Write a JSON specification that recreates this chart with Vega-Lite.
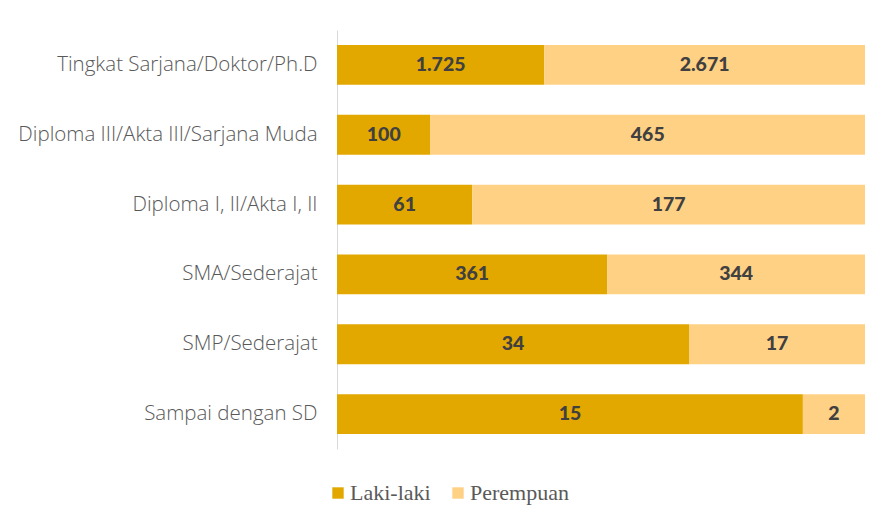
{
  "$schema": "https://vega.github.io/schema/vega-lite/v6.json",
  "width": 528,
  "height": 419,
  "autosize": "none",
  "padding": {"left": 337, "top": 30, "right": 27, "bottom": 78},
  "background": "white",
  "config": {
    "view": {"stroke": null},
    "locale": {"number": {"decimal": ",", "thousands": ".", "grouping": [3], "currency": ["Rp", ""]}}
  },
  "data": {
    "values": [
      {"pendidikan": "Tingkat Sarjana/Doktor/Ph.D", "jk": "Laki-laki", "urut": 1, "nilai": 1725},
      {"pendidikan": "Tingkat Sarjana/Doktor/Ph.D", "jk": "Perempuan", "urut": 2, "nilai": 2671},
      {"pendidikan": "Diploma III/Akta III/Sarjana Muda", "jk": "Laki-laki", "urut": 1, "nilai": 100},
      {"pendidikan": "Diploma III/Akta III/Sarjana Muda", "jk": "Perempuan", "urut": 2, "nilai": 465},
      {"pendidikan": "Diploma I, II/Akta I, II", "jk": "Laki-laki", "urut": 1, "nilai": 61},
      {"pendidikan": "Diploma I, II/Akta I, II", "jk": "Perempuan", "urut": 2, "nilai": 177},
      {"pendidikan": "SMA/Sederajat", "jk": "Laki-laki", "urut": 1, "nilai": 361},
      {"pendidikan": "SMA/Sederajat", "jk": "Perempuan", "urut": 2, "nilai": 344},
      {"pendidikan": "SMP/Sederajat", "jk": "Laki-laki", "urut": 1, "nilai": 34},
      {"pendidikan": "SMP/Sederajat", "jk": "Perempuan", "urut": 2, "nilai": 17},
      {"pendidikan": "Sampai dengan SD", "jk": "Laki-laki", "urut": 1, "nilai": 15},
      {"pendidikan": "Sampai dengan SD", "jk": "Perempuan", "urut": 2, "nilai": 2}
    ]
  },
  "transform": [
    {"stack": "nilai", "groupby": ["pendidikan"], "sort": [{"field": "urut", "order": "ascending"}], "offset": "normalize", "as": ["x0", "x1"]},
    {"calculate": "(datum.x0 + datum.x1) / 2", "as": "xm"}
  ],
  "encoding": {
    "y": {
      "field": "pendidikan",
      "type": "nominal",
      "sort": null,
      "scale": {"paddingInner": 0.43, "paddingOuter": 0.215},
      "axis": {
        "title": null,
        "ticks": false,
        "domain": true,
        "domainColor": "#d9d9d9",
        "domainWidth": 1,
        "labelFont": "Open Sans",
        "labelFontWeight": 300,
        "labelFontSize": 20.5,
        "labelColor": "#595959",
        "labelPadding": 20,
        "labelLimit": 400
      }
    }
  },
  "layer": [
    {
      "mark": {"type": "bar"},
      "encoding": {
        "x": {"field": "x0", "type": "quantitative", "scale": {"domain": [0, 1], "nice": false}, "axis": null},
        "x2": {"field": "x1"},
        "color": {
          "field": "jk",
          "type": "nominal",
          "scale": {"domain": ["Laki-laki", "Perempuan"], "range": ["#E2A800", "#FFD185"]},
          "legend": {
            "title": null,
            "orient": "none",
            "direction": "horizontal",
            "legendX": -10,
            "legendY": 452,
            "symbolType": "square",
            "symbolSize": 130,
            "symbolStrokeWidth": 0,
            "labelFont": "Liberation Serif",
            "labelFontSize": 22,
            "labelColor": "#595959",
            "labelOffset": 1,
            "columnPadding": 16
          }
        }
      }
    },
    {
      "mark": {"type": "text", "font": "Lato", "fontWeight": 900, "fontSize": 19.5, "color": "#404040", "baseline": "middle", "align": "center"},
      "encoding": {
        "x": {"field": "xm", "type": "quantitative"},
        "text": {"field": "nilai", "type": "quantitative", "format": ","}
      }
    }
  ]
}
